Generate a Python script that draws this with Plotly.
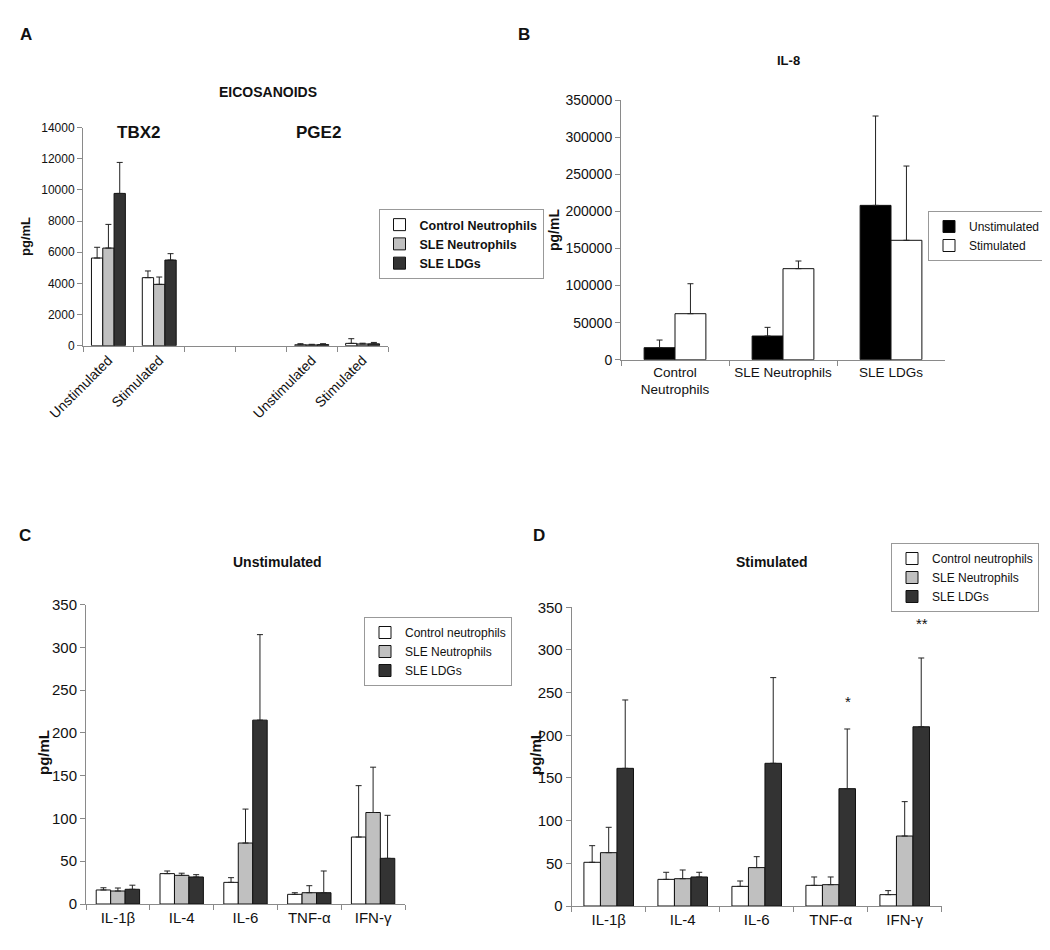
import plotly.graph_objects as go

# ---------------- data ----------------
# Panel A: eicosanoids
A_cats = ["TBX2 Unstimulated", "TBX2 Stimulated", "gap1", "gap2", "PGE2 Unstimulated", "PGE2 Stimulated"]
A_ticktext = ["Unstimulated", "Stimulated", "", "", "Unstimulated", "Stimulated"]
A_x = ["TBX2 Unstimulated", "TBX2 Stimulated", "PGE2 Unstimulated", "PGE2 Stimulated"]
A_control = [5630, 4370, 60, 150]
A_control_err = [690, 430, 70, 300]
A_sle = [6270, 3940, 50, 110]
A_sle_err = [1520, 470, 40, 50]
A_ldg = [9780, 5500, 70, 120]
A_ldg_err = [1990, 410, 60, 90]

# Panel B: IL-8
B_cats = ["Control<br>Neutrophils", "SLE Neutrophils", "SLE LDGs"]
B_unstim = [16200, 31900, 208000]
B_unstim_err = [10300, 11700, 120400]
B_stim = [62000, 122700, 160900]
B_stim_err = [40400, 10300, 100100]

# Panels C/D: cytokines
cytokines = ["IL-1β", "IL-4", "IL-6", "TNF-α", "IFN-γ"]
C_ctrl = [16.4, 35.5, 25.3, 11.3, 78.3]
C_ctrl_err = [2.6, 3.1, 5.5, 1.9, 60.1]
C_sle = [15.2, 33.5, 71.3, 13.2, 107]
C_sle_err = [3.5, 2.5, 39.7, 8.2, 53]
C_ldg = [17.2, 31.6, 215, 13.2, 53.4]
C_ldg_err = [4.8, 2.7, 100, 25.4, 50.3]

D_ctrl = [51.2, 31.2, 23, 24.2, 13.3]
D_ctrl_err = [19.5, 8.3, 6.3, 9.8, 4.7]
D_sle = [62.5, 32, 45, 25, 82]
D_sle_err = [29.7, 10.2, 12.8, 9, 40.3]
D_ldg = [161.3, 34, 167.2, 137.5, 210]
D_ldg_err = [80.1, 5.5, 100.4, 69.9, 80.6]

# ---------------- styling ----------------
OFF = 8                      # page body margin
W, H = 1050 - OFF, 950 - OFF
FONT = "Arial, Liberation Sans, Helvetica, sans-serif"
WHITE, GRAY, DARK, BLACK = "#ffffff", "#c0c0c0", "#333333", "#000000"
AXC = "#8a8a8a"


def px_x(p):
    return (p - OFF) / W


def px_y(p):
    return 1 - (p - OFF) / H


fig = go.Figure()


def add_bar(x, y, err, color, name, xa, ya, legend, offset, width, showlegend=True):
    fig.add_trace(go.Bar(
        x=x, y=y, name=name, xaxis=xa, yaxis=ya, legend=legend,
        marker=dict(color=color, line=dict(color="#111111", width=1)),
        offset=offset, width=width, showlegend=showlegend,
        error_y=dict(type="data", symmetric=False, array=err, arrayminus=[0] * len(err),
                     color="#222222", thickness=1, width=3),
    ))


def group(n, g):
    w = g / n
    return [(-g / 2 + i * w) for i in range(n)], w


# A
offs, w = group(3, 0.667)
add_bar(A_x, A_control, A_control_err, WHITE, "Control Neutrophils", "x", "y", "legend", offs[0], w)
add_bar(A_x, A_sle, A_sle_err, GRAY, "SLE Neutrophils", "x", "y", "legend", offs[1], w)
add_bar(A_x, A_ldg, A_ldg_err, DARK, "SLE LDGs", "x", "y", "legend", offs[2], w)

# B
offs, w = group(2, 0.572)
add_bar(B_cats, B_unstim, B_unstim_err, BLACK, "Unstimulated", "x2", "y2", "legend2", offs[0], w)
add_bar(B_cats, B_stim, B_stim_err, WHITE, "Stimulated", "x2", "y2", "legend2", offs[1], w)

# C
offs, w = group(3, 0.68)
add_bar(cytokines, C_ctrl, C_ctrl_err, WHITE, "Control neutrophils", "x3", "y3", "legend3", offs[0], w)
add_bar(cytokines, C_sle, C_sle_err, GRAY, "SLE Neutrophils", "x3", "y3", "legend3", offs[1], w)
add_bar(cytokines, C_ldg, C_ldg_err, DARK, "SLE LDGs", "x3", "y3", "legend3", offs[2], w)

# D
offs, w = group(3, 0.67)
add_bar(cytokines, D_ctrl, D_ctrl_err, WHITE, "Control neutrophils", "x4", "y4", "legend4", offs[0], w)
add_bar(cytokines, D_sle, D_sle_err, GRAY, "SLE Neutrophils", "x4", "y4", "legend4", offs[1], w)
add_bar(cytokines, D_ldg, D_ldg_err, DARK, "SLE LDGs", "x4", "y4", "legend4", offs[2], w)


def xaxis(dom, anchor, size, **kw):
    d = dict(domain=[px_x(dom[0]), px_x(dom[1])], anchor=anchor, type="category",
             tickson="boundaries", ticks="outside", ticklen=5, tickcolor=AXC,
             showline=True, linecolor=AXC, linewidth=1, showgrid=False, zeroline=False,
             automargin=False, tickangle=0,
             tickfont=dict(family=FONT, size=size, color="#111111"), fixedrange=True)
    d.update(kw)
    return d


def yaxis(dom, anchor, rng, dtick, size):
    return dict(domain=[px_y(dom[0]), px_y(dom[1])], anchor=anchor, range=rng, dtick=dtick,
                tickformat="d", ticks="outside", ticklen=5, tickcolor=AXC, showline=True,
                linecolor=AXC, linewidth=1, showgrid=False, zeroline=False, automargin=False,
                tickfont=dict(family=FONT, size=size, color="#111111"), fixedrange=True)


leg_common = dict(bgcolor="white", bordercolor="#999999", borderwidth=1,
                  yanchor="top", tracegroupgap=0, itemwidth=30)

fig.update_layout(
    width=W, height=H, margin=dict(l=0, r=0, t=0, b=0, autoexpand=False),
    paper_bgcolor="white", plot_bgcolor="white", barmode="overlay",
    font=dict(family=FONT, color="#111111"),
    xaxis=xaxis((83, 388), "y", 14, categoryorder="array", categoryarray=A_cats,
                tickmode="array", tickvals=A_cats, ticktext=A_ticktext, tickangle=-45,
                range=[-0.5, 5.5]),
    yaxis=yaxis((345.7, 127.7), "x", [0, 14000], 2000, 12),
    xaxis2=xaxis((621, 945), "y2", 13.5, range=[-0.5, 2.5]),
    yaxis2=yaxis((359.7, 100), "x2", [0, 350000], 50000, 14),
    xaxis3=xaxis((86, 405), "y3", 15, range=[-0.5, 4.5]),
    yaxis3=yaxis((904, 604.7), "x3", [0, 350], 50, 15),
    xaxis4=xaxis((571.7, 941.7), "y4", 15, range=[-0.5, 4.5]),
    yaxis4=yaxis((906, 607.3), "x4", [0, 350], 50, 15),
    legend=dict(x=px_x(461), xanchor="center", y=px_y(209),
                font=dict(family=FONT, size=12.5, color="#111111", weight="bold"), **leg_common),
    legend2=dict(x=px_x(1046), xanchor="right", y=px_y(211),
                 font=dict(family=FONT, size=12, color="#111111"), **leg_common),
    legend3=dict(x=px_x(438), xanchor="center", y=px_y(617),
                 font=dict(family=FONT, size=12, color="#111111"), **leg_common),
    legend4=dict(x=px_x(965), xanchor="center", y=px_y(543),
                 font=dict(family=FONT, size=12, color="#111111"), **leg_common),
)


def ann(text, x, y, size, bold=True, angle=0):
    fig.add_annotation(text=f"<b>{text}</b>" if bold else text, x=px_x(x), y=px_y(y),
                       xref="paper", yref="paper", showarrow=False, textangle=angle,
                       font=dict(family=FONT, size=size, color="#111111"),
                       xanchor="center", yanchor="middle")


# panel letters
ann("A", 26, 35, 17)
ann("B", 524, 35, 17)
ann("C", 25, 535, 17)
ann("D", 539, 535, 17)
# titles
ann("EICOSANOIDS", 268, 92, 14)
ann("TBX2", 138, 133, 17)
ann("PGE2", 318, 133, 17)
ann("IL-8", 788, 61, 13)
ann("Unstimulated", 277, 562, 14)
ann("Stimulated", 772, 562, 14)
# y-axis titles
ann("pg/mL", 25, 237, 13, angle=-90)
ann("pg/mL", 554, 230, 14, angle=-90)
ann("pg/mL", 43, 753, 15, angle=-90)
ann("pg/mL", 535, 753, 15, angle=-90)

# significance markers in D
fig.add_annotation(text="*", x="TNF-α", y=240, xref="x4", yref="y4", xshift=17, showarrow=False,
                   font=dict(family=FONT, size=15, color="#111111"))
fig.add_annotation(text="**", x="IFN-γ", y=331, xref="x4", yref="y4", xshift=17, showarrow=False,
                   font=dict(family=FONT, size=15, color="#111111"))

fig.write_html("out.html")
